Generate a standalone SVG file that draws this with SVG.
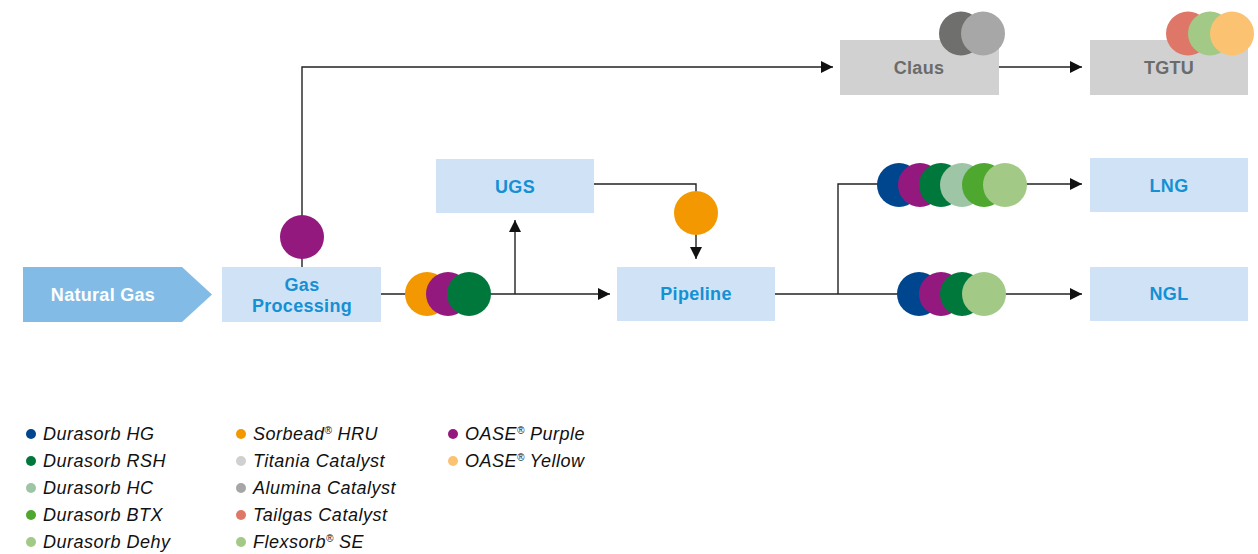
<svg xmlns="http://www.w3.org/2000/svg" width="1258" height="554" viewBox="0 0 1258 554">
<defs>
<marker id="ah" viewBox="0 0 12 12" refX="12" refY="6" markerWidth="12" markerHeight="12" markerUnits="userSpaceOnUse" orient="auto">
<path d="M0,0 L12,6 L0,12 Z" fill="#111"/>
</marker>
<style>
.ln{fill:none;stroke:#222;stroke-width:1.4}
.bx{fill:#d0e3f6}
.gb{fill:#d0d1d0}
.bt{font-family:"Liberation Sans",Arial,sans-serif;font-weight:bold;font-size:18px;letter-spacing:0.3px;fill:#1590d4;text-anchor:middle}
.gt{font-family:"Liberation Sans",Arial,sans-serif;font-weight:bold;font-size:18px;letter-spacing:0.3px;fill:#6b6b6b;text-anchor:middle}
.lg{font-family:"Liberation Sans",Arial,sans-serif;font-style:italic;font-size:18px;letter-spacing:0.5px;fill:#111}
.sup{font-size:10px;letter-spacing:0}
</style>
</defs>
<rect width="1258" height="554" fill="#fff"/>
<g id="connectors">
<path class="ln" d="M302,267 V67 H833" marker-end="url(#ah)"/>
<path class="ln" d="M999,67 H1082" marker-end="url(#ah)"/>
<path class="ln" d="M381,294 H610" marker-end="url(#ah)"/>
<path class="ln" d="M515,294 V220" marker-end="url(#ah)"/>
<path class="ln" d="M594,184 H696 V259" marker-end="url(#ah)"/>
<path class="ln" d="M775,294 H1082" marker-end="url(#ah)"/>
<path class="ln" d="M838,294 V184 H1082" marker-end="url(#ah)"/>
</g>
<g id="natural-gas">
<path d="M23,267 H182 L212,294.5 L182,322 H23 Z" fill="#82bce6"/>
<text x="103" y="301" font-family="Liberation Sans,Arial,sans-serif" font-weight="bold" font-size="18" letter-spacing="0.3" fill="#fff" text-anchor="middle">Natural Gas</text>
</g>
<g id="gas-processing">
<rect class="bx" x="222" y="267" width="159" height="55"/>
<text class="bt" x="302" y="291">Gas</text>
<text class="bt" x="302" y="312">Processing</text>
</g>
<g id="ugs">
<rect class="bx" x="436" y="159" width="158" height="54"/>
<text class="bt" x="515" y="193">UGS</text>
</g>
<g id="pipeline">
<rect class="bx" x="617" y="267" width="158" height="54"/>
<text class="bt" x="696" y="300">Pipeline</text>
</g>
<g id="lng">
<rect class="bx" x="1090" y="158" width="158" height="54"/>
<text class="bt" x="1169" y="192">LNG</text>
</g>
<g id="ngl">
<rect class="bx" x="1090" y="267" width="158" height="54"/>
<text class="bt" x="1169" y="300">NGL</text>
</g>
<g id="claus">
<rect class="gb" x="840" y="40" width="159" height="55"/>
<text class="gt" x="919" y="74">Claus</text>
<circle cx="961" cy="33.5" r="22" fill="#6f6f6e"/>
<circle cx="983" cy="33.5" r="22" fill="#a7a7a7"/>
</g>
<g id="tgtu">
<rect class="gb" x="1090" y="40" width="158" height="55"/>
<text class="gt" x="1169" y="74">TGTU</text>
<circle cx="1188" cy="33.5" r="22" fill="#df7769"/>
<circle cx="1210" cy="33.5" r="22" fill="#a2c986"/>
<circle cx="1232" cy="33.5" r="22" fill="#fbc272"/>
</g>
<g id="catalysts">
<circle cx="302" cy="237" r="22" fill="#94197e"/>
<circle cx="427" cy="294" r="22" fill="#f39800"/>
<circle cx="448" cy="294" r="22" fill="#94197e"/>
<circle cx="469" cy="294" r="22" fill="#00783c"/>
<circle cx="696" cy="213" r="22" fill="#f39800"/>
<circle cx="899" cy="185" r="22" fill="#00468f"/>
<circle cx="920" cy="185" r="22" fill="#94197e"/>
<circle cx="941" cy="185" r="22" fill="#00783c"/>
<circle cx="962" cy="185" r="22" fill="#9dc5a6"/>
<circle cx="984" cy="185" r="22" fill="#4ea72e"/>
<circle cx="1005" cy="185" r="22" fill="#a2c986"/>
<circle cx="919" cy="294" r="22" fill="#00468f"/>
<circle cx="941" cy="294" r="22" fill="#94197e"/>
<circle cx="962" cy="294" r="22" fill="#00783c"/>
<circle cx="984" cy="294" r="22" fill="#a2c986"/>
</g>
<g id="legend">
<circle cx="31" cy="434" r="5" fill="#00468f"/><text class="lg" x="43" y="440">Durasorb HG</text>
<circle cx="31" cy="461" r="5" fill="#00783c"/><text class="lg" x="43" y="467">Durasorb RSH</text>
<circle cx="31" cy="488" r="5" fill="#9dc5a6"/><text class="lg" x="43" y="494">Durasorb HC</text>
<circle cx="31" cy="515" r="5" fill="#4ea72e"/><text class="lg" x="43" y="521">Durasorb BTX</text>
<circle cx="31" cy="542" r="5" fill="#a2c986"/><text class="lg" x="43" y="548">Durasorb Dehy</text>
<circle cx="241" cy="434" r="5" fill="#f39800"/><text class="lg" x="253" y="440">Sorbead<tspan class="sup" dy="-6">®</tspan><tspan dy="6"> HRU</tspan></text>
<circle cx="241" cy="461" r="5" fill="#d0d0d0"/><text class="lg" x="253" y="467">Titania Catalyst</text>
<circle cx="241" cy="488" r="5" fill="#a6a6a6"/><text class="lg" x="253" y="494">Alumina Catalyst</text>
<circle cx="241" cy="515" r="5" fill="#df7769"/><text class="lg" x="253" y="521">Tailgas Catalyst</text>
<circle cx="241" cy="542" r="5" fill="#a2c986"/><text class="lg" x="253" y="548">Flexsorb<tspan class="sup" dy="-6">®</tspan><tspan dy="6"> SE</tspan></text>
<circle cx="453" cy="434" r="5" fill="#94197e"/><text class="lg" x="465" y="440">OASE<tspan class="sup" dy="-6">®</tspan><tspan dy="6"> Purple</tspan></text>
<circle cx="453" cy="461" r="5" fill="#fbc272"/><text class="lg" x="465" y="467">OASE<tspan class="sup" dy="-6">®</tspan><tspan dy="6"> Yellow</tspan></text>
</g>
</svg>
